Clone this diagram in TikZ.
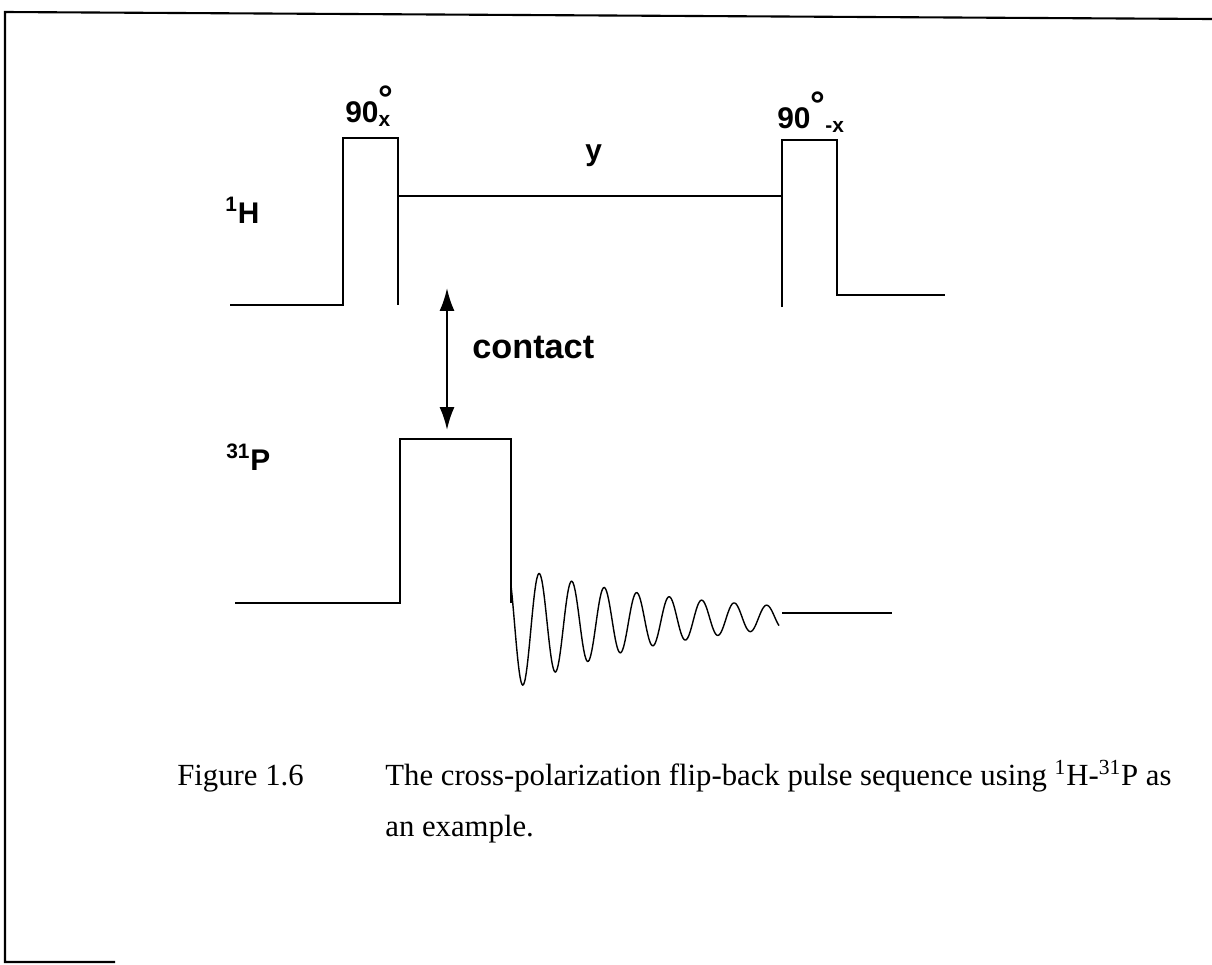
\documentclass[tikz,border=0pt]{standalone}
\usepackage{fontspec}
\setmainfont{Liberation Serif}
\newfontfamily\labelfont{Liberation Sans}
\usetikzlibrary{arrows.meta,positioning}
\newcommand{\degsign}{\raisebox{6pt}{\fontsize{21}{21}\selectfont °}}

\begin{document}
\begin{tikzpicture}[x=0.02cm, y=-0.02cm,
  pulse/.style={line width=1.3pt, line join=miter},
  fid/.style={line width=0.8pt},
  lbl/.style={font=\labelfont\bfseries\fontsize{17}{20}\selectfont,
              inner sep=0pt, anchor=base west},
  captxt/.style={font=\fontsize{17.5}{21}\selectfont, inner sep=0pt,
              anchor=base west}
]
  \useasboundingbox (0,0) rectangle (1212,964);
  % frame of the scanned page
  \draw[line width=1.2pt] (1212,19) -- (5,12) -- (5,962) -- (115,962);

  % 1H channel
  \draw[pulse] (230,305) -- (343,305) -- (343,138) -- (398,138) -- (398,305);
  \draw[pulse] (398,196) -- (782,196);
  \draw[pulse] (782,307) -- (782,140) -- (837,140) -- (837,295) -- (945,295);

  % 31P channel
  \draw[pulse] (235,603) -- (400,603) -- (400,439) -- (511,439) -- (511,603);
  \draw[fid] plot[domain=511:779, samples=320, smooth]
    (\x, {615 + 12*exp(-(\x-523)/158)
          + 58*exp(-(\x-523)/158)*cos(11.077*(\x-523))});
  \draw[pulse] (782,613) -- (892,613);

  % contact arrow
  \coordinate (ctop) at (447,288);
  \coordinate (cbot) at (447,430);
  \draw[{Latex[length=13pt,width=8.5pt]}-{Latex[length=13pt,width=8.5pt]},
        line width=1.2pt] (ctop) -- (cbot);

  % labels
  \node[lbl] (hlab) at (225,223) {\textsuperscript{1}H};
  \node[lbl] (plab) at (226,470) {\textsuperscript{31}P};
  \node[lbl] (pone) at (345,122) {90\rlap{\degsign}\textsubscript{x}};
  \node[lbl] (ptwo) at (777,128) {90\degsign\textsubscript{-x}};
  \node[lbl] (ylab) at (585,160) {y};
  \node[lbl, font=\labelfont\bfseries\fontsize{19.5}{23}\selectfont]
    (clab) at (472,358) {contact};

  % caption
  \node[captxt] (fig)  at (177,785) {Figure 1.6};
  \node[captxt] (capa) at (385,785)
    {The cross-polarization flip-back pulse sequence using \textsuperscript{1}H-\textsuperscript{31}P as};
  \node[captxt] (capb) at (385,836) {an example.};
\end{tikzpicture}
\end{document}
